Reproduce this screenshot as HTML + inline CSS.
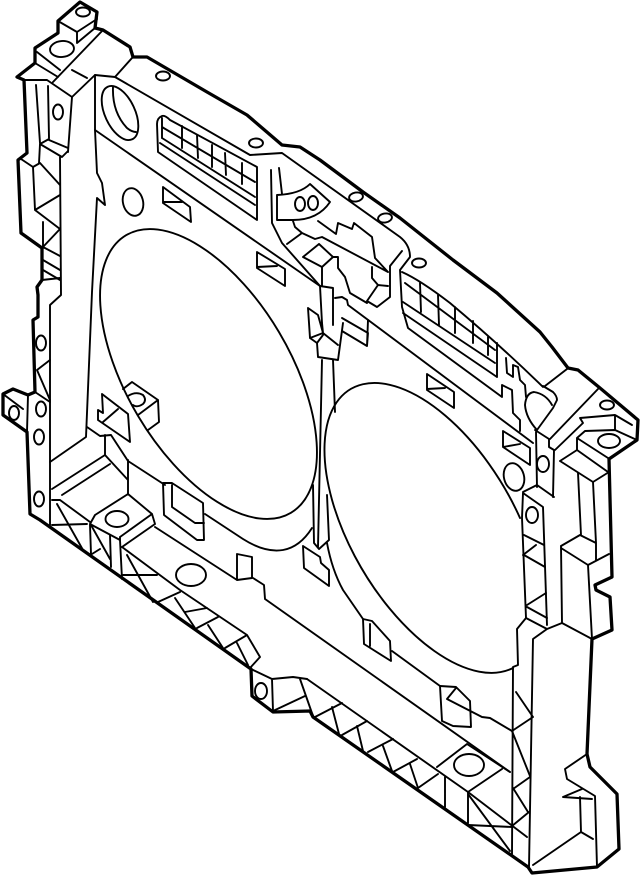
<!DOCTYPE html>
<html><head><meta charset="utf-8"><title>Diagram</title>
<style>html,body{margin:0;padding:0;background:#fff}svg{display:block}</style></head>
<body>
<svg xmlns="http://www.w3.org/2000/svg" width="640" height="876" viewBox="0 0 640 876">
<rect width="640" height="876" fill="#fff"/>
<g fill="none" stroke="#000" stroke-linejoin="round" stroke-linecap="round">
<!-- heavy outline -->
<path stroke-width="3.3" d="M17 77L35 63L35 48L58 33L58 21L80 2L97 12L95 28L103 30L130 47L133 57L147 57L207 92L247 115L282 145L300 147L320 160L363 192L400 218L453 260L497 293L540 332L552 347L568 368L578 370L600 388L638 420L637 440L609 459L612 577L595 585L596 590L610 597L612 630L592 639L587 754L590 767L617 794L619 849L597 867L532 873L528 867L313 717L310 711L273 712L252 696L251 669L40 520L30 514L27 432L3 415L3 394L13 389L28 395L35 392L33 320L38 317L38 295L37 287L42 280L42 248L21 233L18 160L27 153L24 80Z"/>
<g stroke-width="1.9">
<!-- top-left corner -->
<path d="M37 52L60 70M35 63L58 77M58 21L77 32L97 19M77 32V43L95 28M103 30L53 82M72 70L87 78M23 80H47L72 97L95 75L115 77L132 58"/>
<ellipse cx="62" cy="49" rx="12" ry="8" transform="rotate(-5 62 49)"/>
<ellipse cx="83" cy="12" rx="7" ry="4.5"/>
<path d="M36 85L40 143M48 86L49 138M72 97L68 152M49 140L68 148M40 144L49 139M40 144L62 157L68 151M40 144L39 163M60 157L61 295L50 305V525"/>
<ellipse cx="58" cy="112" rx="5" ry="7.5"/>
<path d="M21 159L33 167L40 163L60 185M33 167L35 210L60 195M35 210L60 229L42 248M43 222V248M43 247L60 256M43 260L60 270M43 270L60 280M42 280L60 278"/>
<!-- left side lower -->
<ellipse cx="41" cy="343" rx="5" ry="7.5"/>
<path d="M37 370L50 360M37 370L50 400M35 392L50 402M3 394L23 409M28 395L27 432"/>
<ellipse cx="41" cy="409" rx="5" ry="7.5"/>
<ellipse cx="39" cy="437" rx="5" ry="7.5"/>
<ellipse cx="39" cy="499" rx="5" ry="7.5"/>
<ellipse cx="14" cy="413" rx="5" ry="7"/>
<!-- inner frame left -->
<path d="M95 75V130L97 173L102 183L105 205L97 198L92 292L86 437L50 462M87 427L100 436L111 435M105 435V455L52 489M110 464L62 495M105 455L128 480M128 460V494M111 435L128 461L165 485"/>
<!-- block with ellipse lower left -->
<path d="M128 494L95 515L90 524L120 540L122 579M128 494L152 514L120 537M155 524L122 547M152 514L155 524M120 537V541"/>
<ellipse cx="117" cy="519" rx="11.5" ry="8"/>
<path d="M60 500L90 522M52 500H60M57 504L83 550M52 525L87 524M90 525L91 554M91 525L110 559M110 535L111 567M92 554L100 549"/>
<path d="M122 547L180 590L247 635L260 657L250 668M122 575H157M127 555L153 602M158 602L180 592M175 598L195 628M185 612L207 608M197 628L218 617M208 625L223 648M225 648L247 635M237 643L248 665"/>
<ellipse cx="191" cy="575" rx="15" ry="11"/>
<path d="M155 527L237 580M237 554L252 557V578L237 580ZM253 578L264 585L265 599L510 772"/>
<path d="M163 483H172L203 503L204 540H197L164 515ZM172 485V507L195 523H204"/>
<!-- fan openings -->
<ellipse cx="208.5" cy="374" rx="161.4" ry="82" transform="rotate(59.3 208.5 374)"/>
<path d="M520 518A161.4 82 59.3 1 0 513 668"/>
<path d="M205 514L243 539Q265 553 283 550Q300 547 312 528"/>
<path d="M327 543Q332 570 343 590L363 619M392 651L440 686"/>
<!-- spine -->
<path d="M322 360L318 547M333 360L335 412M313 485L314 543L319 549L329 540L327 495"/>
<path d="M303 546L320 557L321 563L329 570V586L304 568Z"/>
<!-- top frame -->
<path d="M115 77L250 155L282 153L400 237Q410 245 410 257L400 270L402 307L408 328L502 397V385L512 390L513 413L520 420V431"/>
<path d="M95 130L320 286L333 288V325M335 298L342 297L347 300L348 305L533 443"/>
<ellipse cx="163" cy="76" rx="7" ry="4.5"/>
<ellipse cx="256" cy="143" rx="7" ry="4.5"/>
<ellipse cx="120" cy="113" rx="29" ry="15" transform="rotate(65 120 113)"/>
<path d="M113 87Q112 112 127 128Q132 132 136 132"/>
<ellipse cx="133" cy="202" rx="10" ry="14" transform="rotate(-15 133 202)"/>
<path d="M163 187L190 207L191 222L163 203ZM163 202L182 202"/>
<path d="M257 252L285 269V286L257 268ZM257 267L277 266"/>
<!-- left window -->
<path d="M162 116Q157 118 157 124L158 152L257 220V167L170 120Q165 115 162 116M162 127L255 182M162 138L255 197M160 143L255 205M162 118V138M182 126V148M197 135L198 158M212 145V167M225 153L226 175M242 163V184"/>
<!-- center mech -->
<path d="M271 170L272 223L282 243L320 286M279 168L282 194"/>
<path d="M277 195Q300 194 310 184L330 202Q318 220 293 220L277 220Z"/>
<ellipse cx="300" cy="204" rx="5" ry="7"/>
<ellipse cx="313" cy="203" rx="5" ry="7"/>
<path d="M293 221L295 227L302 233L315 239L322 237L388 272M302 233L287 244M318 221L336 234L338 223L352 229L354 223L372 237L375 258L388 272M402 251L390 266V297L377 307L367 301L378 285L388 286M372 267V278L378 285"/>
<path d="M319 244L303 257L322 267L333 257L319 244M322 267V286M333 257H338V268L345 277L350 293L367 303"/>
<path d="M320 286L322 323L323 333L338 345M308 308L318 315L323 333L310 338ZM310 338L317 343L318 357L338 360L343 323M317 343L323 335M342 318L368 333L367 346L342 331M368 320L367 346"/>
<!-- ellipses on top edge -->
<ellipse cx="356" cy="197" rx="7" ry="4.5" transform="rotate(-10 356 197)"/>
<ellipse cx="385" cy="218" rx="7" ry="4.5" transform="rotate(-10 385 218)"/>
<ellipse cx="419" cy="263" rx="7" ry="4.5"/>
<!-- right window -->
<path d="M402 272Q420 280 450 303Q500 345 543 387M405 283L495 350M403 302L495 363M403 313L497 377M497 343V377M420 283L421 312M438 295L439 325M455 307V333M473 321V343M488 337V355"/>
<path d="M427 374L454 392V408L427 390ZM427 389L445 388"/>
<!-- right upper -->
<path d="M506 358L507 373L513 377V365L518 367L520 380L525 385L526 397"/>
<path d="M543 386L553 392Q557 396 557 400L553 408L537 430M552 405Q546 394 534 392Q526 393 525 405Q526 418 537 430M545 386L567 369"/>
<path d="M503 431L530 448V465L503 447ZM503 447L520 444"/>
<ellipse cx="514" cy="477" rx="10" ry="14" transform="rotate(-15 514 477)"/>
<path d="M535 430L549 439V447L554 450L553 497M536 432L537 487M523 492L537 485L554 497"/>
<ellipse cx="543" cy="464" rx="6" ry="8"/>
<path d="M523 493L543 507L547 625M523 493L522 518L526 618"/>
<ellipse cx="532" cy="515" rx="6" ry="8"/>
<path d="M524 535L544 545M523 555L536 545M524 555L545 567M527 605L546 593M527 607L547 618M526 618L547 629M526 618L517 629L518 665L513 667L512 854M547 629L562 623M547 629L533 639L529 867"/>
<!-- right pillar -->
<path d="M562 623L592 639M561 546L562 623M561 546L580 535L596 543M561 548L588 565L609 554M588 565L592 639M596 543V560M578 473L581 535M593 482L596 543M560 461L577 450L608 472M560 461L593 482L609 472M577 438L608 458M577 438V450M577 438L585 431L615 430L637 440"/>
<ellipse cx="609" cy="441" rx="11" ry="7"/>
<path d="M615 415V430M580 418L615 415L632 425M580 418L583 423L555 450M598 389L550 439"/>
<ellipse cx="607" cy="405" rx="7" ry="4.5"/>
<!-- lower-left tab with ellipse -->
<path d="M123 389L132 382L158 400L159 422L148 430M138 415L158 400M128 396Q136 391 143 395Q147 400 143 404Q137 408 133 405"/>
<path d="M102 394L128 414L130 442L98 420V410L103 413ZM103 422L118 409"/>
<!-- bottom strip -->
<path d="M363 619L372 621L390 641L391 661L364 644ZM370 624V646"/>
<path d="M440 686L442 721L453 726L471 727L470 701L456 687ZM456 688L447 699L482 717L490 718L512 731"/>
<path d="M307 679L468 792L527 837M437 767L467 744L510 772M468 792L502 769"/>
<ellipse cx="469" cy="765" rx="15" ry="11"/>
<path d="M468 792V823M468 794L510 851M468 825L512 827M445 777V807M418 788L438 774M418 788L410 764M393 772L417 759M392 771L383 746M368 752L393 739M363 751L357 726M342 735L367 721M339 734L332 707M315 717L342 703M300 679L313 716M273 711L305 696M272 679L273 711M272 679L251 669M272 679L293 677L307 679"/>
<ellipse cx="261" cy="691" rx="6" ry="8"/>
<path d="M512 731L533 717M516 692L533 717M512 731L530 776M513 789L530 777M513 788L528 812M512 826L529 812"/>
<path d="M587 754L565 769L567 779L595 796L597 867M563 797L592 799M563 797L582 789M580 797L581 832L593 839M581 832L533 865"/>
</g>
</g>
</svg>
</body></html>
